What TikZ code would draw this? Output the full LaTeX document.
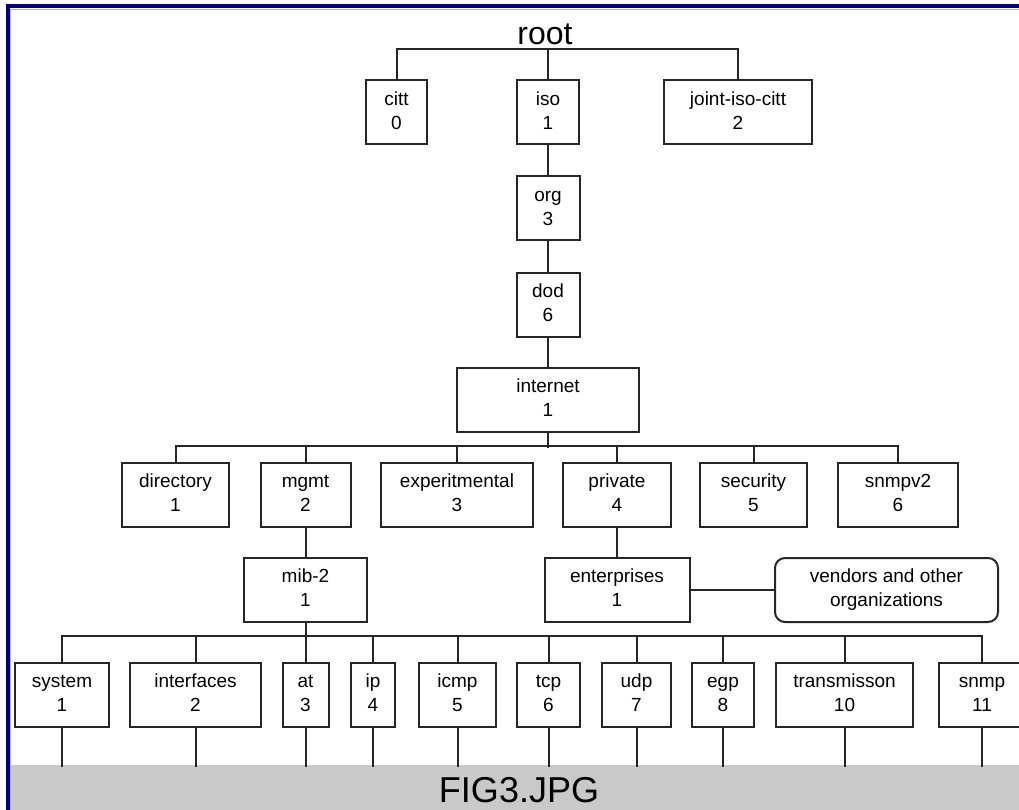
\documentclass[tikz,border=0pt]{standalone}
\usepackage{fontspec}
\setmainfont{Liberation Sans}
\newcommand{\twolines}[2]{\strut#1\\\strut#2}
\begin{document}
\begin{tikzpicture}
[x=1pt, y=-1pt,
box/.style={draw=black!85, line width=2pt, inner sep=0pt, align=center, minimum height=64pt, font=\fontsize{19}{24}\selectfont},
vendorbox/.style={box, rounded corners=10pt},
link/.style={black!85, line width=2pt},
frame/.style={blue!50!black, line width=4pt},
shade/.style={black!30, line width=1pt}]
\useasboundingbox (0,0) rectangle (1019,810);
\clip (0,0) rectangle (1019,810);
\fill[black!21] (10,765) rectangle (1019,810);
\draw[shade] (10,9.5) -- (1019,9.5);
\draw[shade] (10.5,9.5) -- (10.5,810);
\draw[frame] (6,6) -- (1019,6);
\draw[frame] (8,4) -- (8,810);
\node[font=\fontsize{32}{32}\selectfont, anchor=base] (root) at (545,45) {root};
\node[font=\fontsize{36}{36}\selectfont, anchor=base] (caption) at (519,802) {FIG3.JPG};
\node[box, minimum width=61pt] (citt) at (396.5,112.5) {\twolines{citt}{0}};
\node[box, minimum width=62pt] (iso) at (548,112.5) {\twolines{iso}{1}};
\node[box, minimum width=148pt] (joint) at (738,112.5) {\twolines{joint-iso-citt}{2}};
\node[box, minimum width=63pt] (org) at (548,208.5) {\twolines{org}{3}};
\node[box, minimum width=63pt] (dod) at (548,305) {\twolines{dod}{6}};
\node[box, minimum width=182pt] (internet) at (548,400) {\twolines{internet}{1}};
\node[box, minimum width=107pt] (directory) at (175.5,495) {\twolines{directory}{1}};
\node[box, minimum width=90pt] (mgmt) at (305.5,495) {\twolines{mgmt}{2}};
\node[box, minimum width=152pt] (experimental) at (457,495) {\twolines{experitmental}{3}};
\node[box, minimum width=108pt] (private) at (617,495) {\twolines{private}{4}};
\node[box, minimum width=107pt] (security) at (753.5,495) {\twolines{security}{5}};
\node[box, minimum width=120pt] (snmpv2) at (898,495) {\twolines{snmpv2}{6}};
\node[box, minimum width=123pt] (mib2) at (305.5,590) {\twolines{mib-2}{1}};
\node[box, minimum width=145pt] (enterprises) at (617,590) {\twolines{enterprises}{1}};
\node[vendorbox, minimum width=223pt] (vendors) at (886.5,590) {\twolines{vendors and other}{organizations}};
\node[box, minimum width=94pt] (system) at (62,694.5) {\twolines{system}{1}};
\node[box, minimum width=131pt] (interfaces) at (195.5,694.5) {\twolines{interfaces}{2}};
\node[box, minimum width=46pt] (at) at (305.5,694.5) {\twolines{at}{3}};
\node[box, minimum width=44pt] (ip) at (373,694.5) {\twolines{ip}{4}};
\node[box, minimum width=77pt] (icmp) at (457.5,694.5) {\twolines{icmp}{5}};
\node[box, minimum width=63pt] (tcp) at (548.5,694.5) {\twolines{tcp}{6}};
\node[box, minimum width=69pt] (udp) at (636.5,694.5) {\twolines{udp}{7}};
\node[box, minimum width=62pt] (egp) at (723,694.5) {\twolines{egp}{8}};
\node[box, minimum width=137pt] (transmission) at (844.5,694.5) {\twolines{transmisson}{10}};
\node[box, minimum width=86pt] (snmp) at (982,694.5) {\twolines{snmp}{11}};
\draw[link] (citt.north) -- ++(0,-30) -| (joint.north);
\draw[link] (iso.north) -- ++(0,-30);
\draw[link] (iso.south) -- (org.north);
\draw[link] (org.south) -- (dod.north);
\draw[link] (dod.south) -- (internet.north);
\draw[link] (internet.south) -- ++(0,15);
\draw[link] (directory.north) -- ++(0,-16) -| (snmpv2.north);
\foreach \n in {mgmt,experimental,private,security}
  \draw[link] (\n.north) -- ++(0,-16);
\draw[link] (mgmt.south) -- (mib2.north);
\draw[link] (private.south) -- (enterprises.north);
\draw[link] (enterprises.east) -- (vendors.west);
\draw[link] (mib2.south) -- ++(0,15);
\draw[link] (system.north) -- ++(0,-26) -| (snmp.north);
\foreach \n in {interfaces,at,ip,icmp,tcp,udp,egp,transmission}
  \draw[link] (\n.north) -- ++(0,-26);
\foreach \n in {system,interfaces,at,ip,icmp,tcp,udp,egp,transmission,snmp}
  \draw[link] (\n.south) -- ++(0,39);
\end{tikzpicture}
\end{document}
